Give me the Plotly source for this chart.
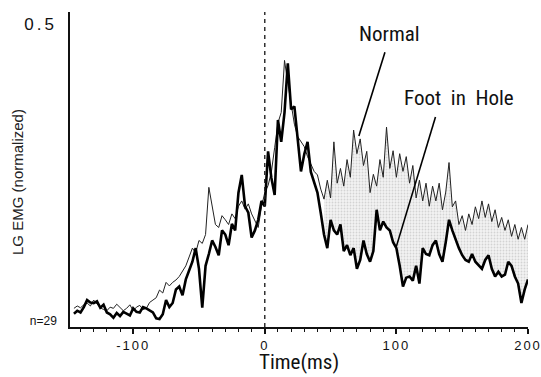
import plotly.graph_objects as go

# sampling grid (ms), every 2.5 ms from -145 to 200
time_ms = [t / 2 for t in range(-290, 401, 5)]

normal = [
    0.018, 0.022, 0.019, 0.024, 0.027, 0.022, 0.032, 0.026, 0.019, 0.016,
    0.014, 0.020, 0.018, 0.025, 0.019, 0.014, 0.018, 0.024, 0.014, 0.020,
    0.023, 0.016, 0.018, 0.028, 0.032, 0.036, 0.049, 0.044, 0.062, 0.056,
    0.062, 0.066, 0.072, 0.080, 0.090, 0.105, 0.120, 0.112, 0.133, 0.128,
    0.143, 0.223, 0.191, 0.160, 0.155, 0.175, 0.168, 0.160, 0.178, 0.170,
    0.191, 0.200, 0.186, 0.195, 0.178, 0.165, 0.155, 0.190, 0.214, 0.226,
    0.249, 0.290, 0.332, 0.350, 0.438, 0.400, 0.362, 0.330, 0.309, 0.300,
    0.292, 0.275, 0.261, 0.250, 0.244, 0.220, 0.203, 0.235, 0.205, 0.300,
    0.230, 0.255, 0.225, 0.270, 0.240, 0.320, 0.280, 0.305, 0.260, 0.284,
    0.214, 0.245, 0.225, 0.270, 0.240, 0.325, 0.255, 0.285, 0.240, 0.280,
    0.250, 0.275, 0.230, 0.260, 0.205, 0.235, 0.200, 0.230, 0.191, 0.225,
    0.200, 0.230, 0.185, 0.215, 0.265, 0.190, 0.200, 0.160, 0.175, 0.150,
    0.178, 0.160, 0.190, 0.170, 0.200, 0.172, 0.195, 0.165, 0.185, 0.155,
    0.172, 0.150, 0.168, 0.140, 0.160, 0.135, 0.155, 0.135, 0.160,
]

foot_in_hole = [
    0.009, 0.014, 0.011, 0.020, 0.032, 0.028, 0.027, 0.030, 0.019, 0.024,
    0.011, 0.008, 0.002, 0.010, 0.005, 0.012, 0.009, 0.006, 0.018, 0.012,
    0.011, 0.020, 0.018, 0.014, 0.011, 0.001, 0.000, 0.008, 0.032, 0.020,
    0.027, 0.050, 0.055, 0.040, 0.067, 0.082, 0.097, 0.120, 0.085, 0.019,
    0.090, 0.110, 0.133, 0.122, 0.108, 0.150, 0.143, 0.125, 0.161, 0.150,
    0.214, 0.244, 0.191, 0.180, 0.138, 0.150, 0.168, 0.200, 0.191, 0.284,
    0.239, 0.210, 0.337, 0.300, 0.350, 0.433, 0.355, 0.360, 0.309, 0.250,
    0.279, 0.300, 0.249, 0.230, 0.214, 0.180, 0.143, 0.120, 0.168, 0.150,
    0.143, 0.160, 0.115, 0.125, 0.108, 0.120, 0.085, 0.100, 0.133, 0.110,
    0.097, 0.115, 0.185, 0.150, 0.165, 0.155, 0.150, 0.130, 0.120, 0.090,
    0.055, 0.070, 0.072, 0.065, 0.090, 0.060, 0.120, 0.110, 0.108, 0.125,
    0.133, 0.110, 0.097, 0.130, 0.168, 0.150, 0.133, 0.120, 0.108, 0.100,
    0.097, 0.110, 0.097, 0.090, 0.085, 0.100, 0.108, 0.085, 0.072, 0.080,
    0.072, 0.075, 0.097, 0.090, 0.072, 0.060, 0.027, 0.050, 0.067,
]

x_ticks = [-100, 0, 100, 200]
x_ticktext = ["-100", "0", "100", "200"]
shade_from_ms = 45

idx = [i for i, t in enumerate(time_ms) if t >= shade_from_ms]
t_sh = [time_ms[i] for i in idx]
n_sh = [normal[i] for i in idx]
f_sh = [foot_in_hole[i] for i in idx]

fig = go.Figure()
fig.add_trace(go.Scatter(x=t_sh, y=f_sh, mode="lines", line=dict(width=0),
                         hoverinfo="skip", showlegend=False))
fig.add_trace(go.Scatter(x=t_sh, y=n_sh, mode="lines", line=dict(width=0),
                         fill="tonexty", fillcolor="rgba(225,225,225,0.8)",
                         fillpattern=dict(shape=".", fgcolor="#b4b4b4", bgcolor="#f3f3f3",
                                          size=3, solidity=0.3),
                         hoverinfo="skip", showlegend=False))
fig.add_trace(go.Scatter(x=time_ms, y=normal, mode="lines", name="Normal",
                         line=dict(color="#222", width=1), showlegend=False))
fig.add_trace(go.Scatter(x=time_ms, y=foot_in_hole, mode="lines", name="Foot in Hole",
                         line=dict(color="#000", width=2.6), showlegend=False))

# dashed line at t = 0
fig.add_shape(type="line", x0=0, x1=0, xref="x", y0=0, y1=1, yref="paper",
              line=dict(color="#222", width=1.4, dash="4px,4px"))
# leader lines
fig.add_shape(type="line", x0=91.3, y0=0.452, x1=71.5, y1=0.310,
              line=dict(color="#000", width=1.6))
fig.add_shape(type="line", x0=129.7, y0=0.342, x1=99.6, y1=0.120,
              line=dict(color="#000", width=1.6))

narrow = "Liberation Sans Narrow, Arial Narrow, Roboto Condensed, Liberation Sans, sans-serif"
fig.add_annotation(x=95, y=0.482, text="Normal", showarrow=False,
                   font=dict(family=narrow, size=21, color="#111"))
fig.add_annotation(x=147.5, y=0.375, text="Foot  in  Hole", showarrow=False,
                   font=dict(family=narrow, size=21, color="#111"))
fig.add_annotation(x=-0.116, y=0.46, xref="paper", yref="paper", text="LG EMG (normalized)",
                   showarrow=False, textangle=-90, xanchor="center", yanchor="middle",
                   font=dict(family="Liberation Sans, Arial, sans-serif", size=15, color="#222"))
fig.add_annotation(x=0.5, y=-0.112, xref="paper", yref="paper", text="Time(ms)",
                   showarrow=False, xanchor="center", yanchor="middle", borderpad=0,
                   font=dict(family=narrow, size=21, color="#111"))

fig.update_layout(
    width=541, height=377,
    margin=dict(l=70, r=13, t=12, b=50, autoexpand=False),
    paper_bgcolor="white", plot_bgcolor="white",
    font=dict(family="Liberation Sans, Arial, sans-serif", color="#111"),
    xaxis=dict(range=[-148, 200], tickvals=x_ticks, automargin=False,
               ticktext=["<span style='letter-spacing:2px'>%s</span>" % s for s in x_ticktext],
               ticks="outside", ticklen=5, tickwidth=1.5, tickcolor="#111",
               minor=dict(dtick=10, ticks="outside", ticklen=3, tickwidth=1.2, tickcolor="#111"),
               showline=True, linecolor="#111", linewidth=1.5, showgrid=False, zeroline=False,
               tickfont=dict(size=13), ticklabelstandoff=1, ticklabeloverflow="allow"),
    yaxis=dict(range=[-0.0136, 0.52], tickvals=[0, 0.5], automargin=False,
               ticktext=["<span style='font-size:12px'>n=29</span>",
                         "<span style='letter-spacing:3px'>0.5</span>"],
               ticks="", showline=True, linecolor="#111", linewidth=1.5,
               showgrid=False, zeroline=False, tickfont=dict(size=17),
               ticklabelstandoff=8, ticklabeloverflow="allow"),
)
fig.write_html("out.html", config={"displayModeBar": False},
               post_script="document.body.style.margin='0';document.body.style.overflow='hidden';")
